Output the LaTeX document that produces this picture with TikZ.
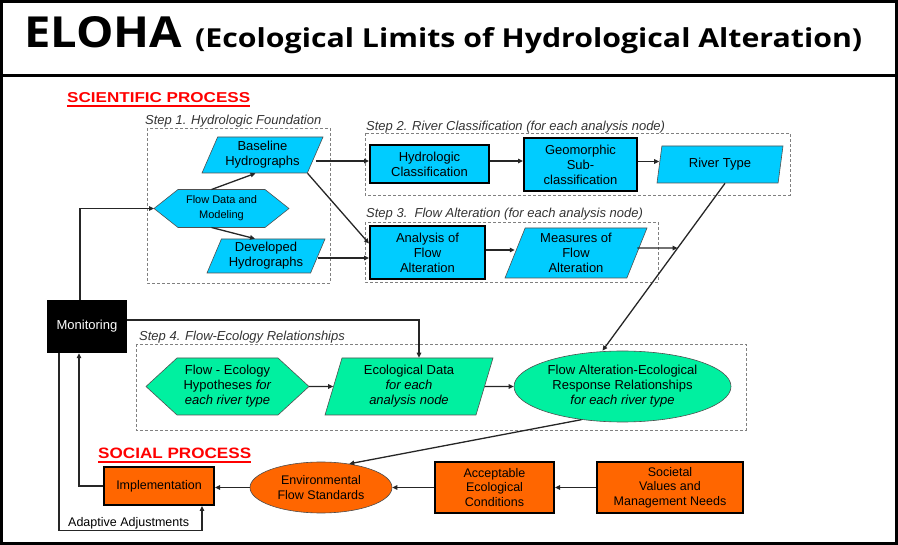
\documentclass[tikz,border=0pt]{standalone}
\usepackage{fontspec}
\setmainfont{Liberation Sans}
\newfontfamily\titlefont{Open Sans}
\usetikzlibrary{shapes.geometric,arrows.meta,calc,backgrounds}
\definecolor{cyanfill}{HTML}{00CCFF}
\definecolor{greenfill}{HTML}{00F0A0}
\definecolor{orangefill}{HTML}{FF6600}
\definecolor{redtxt}{HTML}{FF0000}
\definecolor{edgegray}{HTML}{505050}
\definecolor{dashgray}{HTML}{808080}
\begin{document}
\begin{tikzpicture}[x=1pt,y=-1pt,
  txt/.style={font=\fontsize{13}{15}\selectfont, align=center, inner sep=0pt},
  soctxt/.style={font=\fontsize{12.5}{14.5}\selectfont, align=center, inner sep=0pt},
  thickbox/.style={rectangle, draw=black, line width=2pt},
  para/.style={txt, trapezium, trapezium stretches body, draw=edgegray, line width=0.6pt, fill=cyanfill},
  hexbox/.style={txt, rectangle, inner sep=0pt, outer sep=0pt},
  hexshape/.style={draw=edgegray, line width=0.6pt},
  arr/.style={-{Triangle[length=5pt,width=4.5pt]}, line width=1.3pt, draw=black!85},
  dbox/.style={draw=dashgray, line width=0.7pt, dash pattern=on 3pt off 2pt},
  steplbl/.style={font=\fontsize{13}{15}\selectfont\itshape, anchor=base west, inner sep=0pt, text=black!80},
]
\useasboundingbox (0,0) rectangle (898,545);
% frame
\draw[line width=3pt] (1.5,1.5) rectangle (896.5,543.5);
\draw[line width=3pt] (0,76) -- (898,76);

% title
\node[anchor=base west, inner sep=0pt] (eloha) at (24,48) {\resizebox{158pt}{31pt}{\titlefont\bfseries ELOHA}};
\node[anchor=base west, inner sep=0pt] (eloharest) at (195,48) {\resizebox{667pt}{20pt}{\titlefont\bfseries (Ecological Limits of Hydrological Alteration)}};

% section titles
\node[anchor=base west, inner sep=0pt, text=redtxt] (sci) at (67,103) {\resizebox{183pt}{10pt}{\bfseries SCIENTIFIC PROCESS}};
\draw[redtxt, line width=1.3pt] ([yshift=-3pt]sci.base west) -- ([yshift=-3pt]sci.base east);
\node[anchor=base west, inner sep=0pt, text=redtxt] (soc-title) at (98,459) {\resizebox{153pt}{10.5pt}{\bfseries SOCIAL PROCESS}};
\draw[redtxt, line width=1.3pt] ([yshift=-3pt]soc-title.base west) -- ([yshift=-3pt]soc-title.base east);

% dashed step boxes
\draw[dbox] (147,128) rectangle (330,283);
\draw[dbox] (365,133) rectangle (790,195);
\draw[dbox] (365,222) rectangle (658,282);
\draw[dbox] (136,344) rectangle (746,430);
\node[steplbl] (l1) at (145,125) {Step 1. Hydrologic Foundation};
\node[steplbl] (l2) at (366,131) {Step 2. River Classification (for each analysis node)};
\node[steplbl] (l3) at (366,218) {Step 3.\ \ Flow Alteration (for each analysis node)};
\node[steplbl] (l4) at (139,341) {Step 4. Flow-Ecology Relationships};

% step 1
\node[para, minimum width=121pt, minimum height=36pt, trapezium left angle=60, trapezium right angle=120] (base) at (262.5,155) {Baseline\\Hydrographs};
\node[para, minimum width=118pt, minimum height=34pt, trapezium left angle=62, trapezium right angle=118] (dev) at (266,256) {Developed\\Hydrographs};
\node[hexbox, minimum width=135pt, minimum height=38pt, font=\fontsize{11}{15}\selectfont] (fd) at (221.5,208.5) {Flow Data and\\Modeling};

% step 2
\node[txt, thickbox, fill=cyanfill, minimum width=119pt, minimum height=38pt] (hydro) at (429.5,164) {Hydrologic\\Classification};
\node[txt, thickbox, fill=cyanfill, minimum width=113pt, minimum height=53pt] (geo) at (580.5,164.5) {Geomorphic\\Sub-\\classification};
\node[para, minimum width=126pt, minimum height=37pt, trapezium left angle=68, trapezium right angle=112] (rt) at (720,164.5) {River Type};

% step 3
\node[txt, thickbox, fill=cyanfill, minimum width=115pt, minimum height=53pt] (ana) at (427.5,252.5) {Analysis of\\Flow\\Alteration};
\node[para, minimum width=142pt, minimum height=50pt, trapezium left angle=63, trapezium right angle=117] (meas) at (576,253) {Measures of\\Flow\\Alteration};

% monitoring
\node[txt, fill=black, text=white, minimum width=80pt, minimum height=53pt] (mon) at (87,326.5) {Monitoring};

% step 4
\node[hexbox, minimum width=163pt, minimum height=57pt] (fe) at (227.5,386.5) {Flow - Ecology\\Hypotheses \textit{for}\\\textit{each river type}};
\node[para, fill=greenfill, minimum width=168pt, minimum height=57pt, trapezium left angle=68, trapezium right angle=112] (eco) at (409,386.5) {Ecological Data\\\textit{for each}\\\textit{analysis node}};
\node[txt, ellipse, fill=greenfill, draw=edgegray, line width=0.6pt, minimum width=217pt, minimum height=71pt] (ell) at (622.5,386.5) {Flow Alteration-Ecological\\Response Relationships\\\textit{for each river type}};

% social
\node[soctxt, thickbox, fill=orangefill, minimum width=110pt, minimum height=38pt] (impl) at (159,486) {Implementation};
\node[soctxt, ellipse, fill=orangefill, draw=black!70, line width=0.6pt, minimum width=142pt, minimum height=51pt] (efs) at (321,487.5) {Environmental\\Flow Standards};
\node[soctxt, thickbox, fill=orangefill, minimum width=119pt, minimum height=51pt] (acc) at (494.5,487.5) {Acceptable\\Ecological\\Conditions};
\node[soctxt, thickbox, fill=orangefill, minimum width=146pt, minimum height=51pt] (soc) at (670,487.5) {Societal\\Values and\\Management Needs};
\node[anchor=base west, inner sep=0pt, font=\fontsize{12.5}{14}\selectfont] (adjlbl) at (68,526) {Adaptive Adjustments};

% hexagon shapes behind text
\begin{scope}[on background layer]
\filldraw[hexshape, fill=cyanfill] (fd.west) -- ([xshift=24pt]fd.north west) -- ([xshift=-24pt]fd.north east) -- (fd.east) -- ([xshift=-24pt]fd.south east) -- ([xshift=24pt]fd.south west) -- cycle;
\filldraw[hexshape, fill=greenfill] (fe.west) -- ([xshift=31pt]fe.north west) -- ([xshift=-31pt]fe.north east) -- (fe.east) -- ([xshift=-31pt]fe.south east) -- ([xshift=31pt]fe.south west) -- cycle;
\end{scope}

% connectors
\draw[arr] ([xshift=-7pt]mon.north) |- (fd.west);
\draw[arr] ([xshift=-10pt]fd.north) -- ([xshift=-7pt]base.south);
\draw[arr] ([xshift=-10pt]fd.south) -- ([xshift=-11pt]dev.north);
\draw[arr] ([yshift=-6pt]base.east) -- ([yshift=-6pt]base.east -| hydro.west);
\draw[arr] (base.bottom right corner) -- ([yshift=9pt]ana.west);
\draw[arr] ([yshift=-2pt]dev.east) -- ([yshift=-2pt]dev.east -| ana.west);
\draw[arr] ([yshift=3pt]hydro.east) -- ([yshift=3pt]hydro.east -| geo.west);
\draw[arr] ([yshift=3pt]geo.east) -- ([yshift=3pt]geo.east -| rt.west);
\draw[arr] ([yshift=2.5pt]ana.east) -- ([yshift=2.5pt]ana.east -| meas.west);
\coordinate (rtb) at ([xshift=5pt]rt.south);
\coordinate (ellt) at ([xshift=-20pt]ell.north);
\coordinate (J) at ($(rtb)!0.387!(ellt)$);
\draw[arr] (rtb) -- (ellt);
\draw[arr] ([yshift=5pt]meas.east) -- (J);
\draw[arr] ([yshift=6.5pt]mon.east) -| ([xshift=10pt]eco.north);
\draw[arr] (fe.east) -- (eco.west);
\draw[arr] (eco.east) -- (ell.west);
\draw[arr] (ell.219) -- (efs.40);
\draw[arr] (soc.west) -- (acc.east);
\draw[arr] (acc.west) -- (efs.east);
\draw[arr] (efs.west) -- (efs.west -| impl.east);
\draw[arr] (impl.west) -| ([xshift=-8pt]mon.south);
\draw[arr] ([xshift=-28pt]mon.south) -- ++(0,177) -| ([xshift=43pt]impl.south);
\end{tikzpicture}
\end{document}
